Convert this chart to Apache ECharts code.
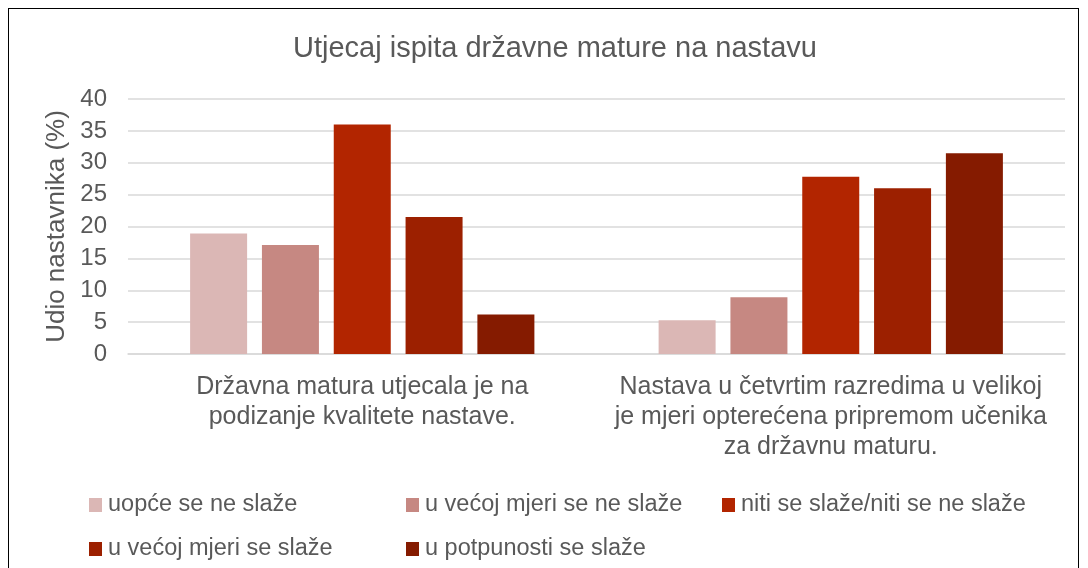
<!DOCTYPE html>
<html lang="hr">
  <head>
    <meta charset="UTF-8" />
    <title>Utjecaj ispita državne mature na nastavu</title>
    <script src="https://cdn.jsdelivr.net/npm/echarts@6.0.0/dist/echarts.min.js"></script>
    <style>
      body { margin: 0; background: #fff; }
      #frame {
        position: absolute; left: 8px; top: 8px; width: 1071px; height: 580px;
        border: 1.5px solid #000; box-sizing: border-box;
      }
      #main { position: absolute; left: 0; top: 0; width: 1088px; height: 568px; }
    </style>
  </head>
  <body>
    <div id="frame"></div>
    <div id="main"></div>
    <script type="text/javascript">
      // data
      const categories = [
        "Državna matura utjecala je na\npodizanje kvalitete nastave.",
        "Nastava u četvrtim razredima u velikoj\nje mjeri opterećena pripremom učenika\nza državnu maturu."
      ];
      const seriesNames = [
        "uopće se ne slaže",
        "u većoj mjeri se ne slaže",
        "niti se slaže/niti se ne slaže",
        "u većoj mjeri se slaže",
        "u potpunosti se slaže"
      ];
      const seriesValues = [
        [18.9, 5.3],
        [17.1, 8.9],
        [36.0, 27.8],
        [21.5, 26.0],
        [6.2, 31.5]
      ];
      const colors = ["#dbb7b5", "#c68882", "#b22500", "#9c2000", "#851b00"];

      const font = "'Liberation Sans', Arial, sans-serif";
      const grey = "#595959";

      var myChart = echarts.init(document.getElementById("main"));

      // legend laid out as a grid: two rows, three columns
      const legendPos = [[84, 488], [401, 488], [717, 488], [84, 532], [401, 532]];

      var option = {
        animation: false,
        title: {
          text: "Utjecaj ispita državne mature na nastavu",
          left: 288,
          top: 29,
          textStyle: { fontFamily: font, fontSize: 29, fontWeight: "normal", color: grey }
        },
        grid: { left: 128, right: 23, top: 99, bottom: 214 },
        legend: seriesNames.map((name, i) => ({
          data: [name],
          left: legendPos[i][0],
          top: legendPos[i][1],
          itemWidth: 13,
          itemHeight: 14,
          itemGap: 4,
          icon: "rect",
          textStyle: { fontFamily: font, fontSize: 23.5, color: grey, padding: [0, 0, 0, 1] }
        })),
        xAxis: {
          type: "category",
          data: categories,
          axisLine: { show: true, lineStyle: { color: "#d9d9d9", width: 1.5 } },
          axisTick: { show: false },
          axisLabel: {
            interval: 0,
            margin: 18,
            fontFamily: font,
            fontSize: 25,
            lineHeight: 30,
            color: grey
          }
        },
        yAxis: {
          type: "value",
          min: 0,
          max: 40,
          interval: 5,
          name: "Udio nastavnika (%)",
          nameLocation: "middle",
          nameGap: 56,
          nameTextStyle: { fontFamily: font, fontSize: 26, color: grey },
          axisLabel: { fontFamily: font, fontSize: 24, color: grey, margin: 21 },
          splitLine: { lineStyle: { color: "#d9d9d9", width: 1.5 } }
        },
        series: seriesNames.map((name, i) => ({
          name: name,
          type: "bar",
          data: seriesValues[i],
          barWidth: 57,
          barGap: "26%",
          itemStyle: { color: colors[i] }
        }))
      };

      option && myChart.setOption(option);
    </script>
  </body>
</html>
